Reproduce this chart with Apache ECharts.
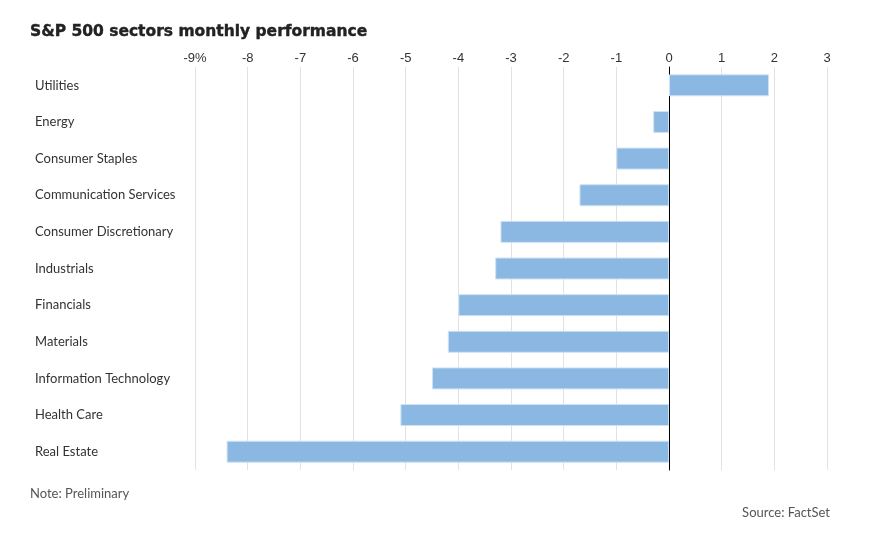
<!DOCTYPE html>
<html><head><meta charset="utf-8">
<script src="https://cdn.jsdelivr.net/npm/echarts@6/dist/echarts.min.js"></script>
<style>html,body{margin:0;padding:0;background:#fff}#c{width:876px;height:536px}</style>
</head><body><div id="c"></div>
<script>
const categories = ["Utilities","Energy","Consumer Staples","Communication Services","Consumer Discretionary","Industrials","Financials","Materials","Information Technology","Health Care","Real Estate"];
const values = [1.9,-0.3,-1.0,-1.7,-3.2,-3.3,-4.0,-4.2,-4.5,-5.1,-8.4];
const titleText = "S&P 500 sectors monthly performance";
const noteText = "Note: Preliminary";
const sourceText = "Source: FactSet";

const chart = echarts.init(document.getElementById('c'));
chart.setOption({
  backgroundColor:'#fff',
  animation:false,
  title:[
    {text:titleText,left:25,top:19,textStyle:{fontFamily:'DejaVu Sans',fontWeight:'bold',fontSize:15.5,color:'#222',textBorderColor:'#222',textBorderWidth:0.4}},
    {text:noteText,left:25,top:482,textStyle:{fontFamily:'Lato',fontWeight:'normal',fontSize:13,color:'#555'}},
    {text:sourceText,right:41,top:501,textStyle:{fontFamily:'Lato',fontWeight:'normal',fontSize:13,color:'#555'}}
  ],
  grid:{left:195,right:49,top:67,bottom:66},
  xAxis:{type:'value',position:'top',min:-9,max:3,interval:1,
    axisLine:{show:false},axisTick:{show:false},
    splitLine:{show:true,lineStyle:{color:'#e2e2e2',width:1}},
    axisLabel:{margin:2,fontFamily:'Liberation Sans',fontSize:13,color:'#333',
      formatter:v=>v===-9?'-9%':String(v)}},
  yAxis:{type:'category',data:categories,inverse:true,
    axisLine:{show:true,onZero:true,lineStyle:{color:'#000',width:1}},
    axisTick:{show:false},
    axisLabel:{align:'left',margin:160,fontFamily:'Lato',fontSize:13,color:'#333'}},
  series:[{type:'bar',data:values,barWidth:'60%',
    itemStyle:{color:'#8ab8e2',borderColor:'#cfe2f3',borderWidth:1}}]
});
</script></body></html>
